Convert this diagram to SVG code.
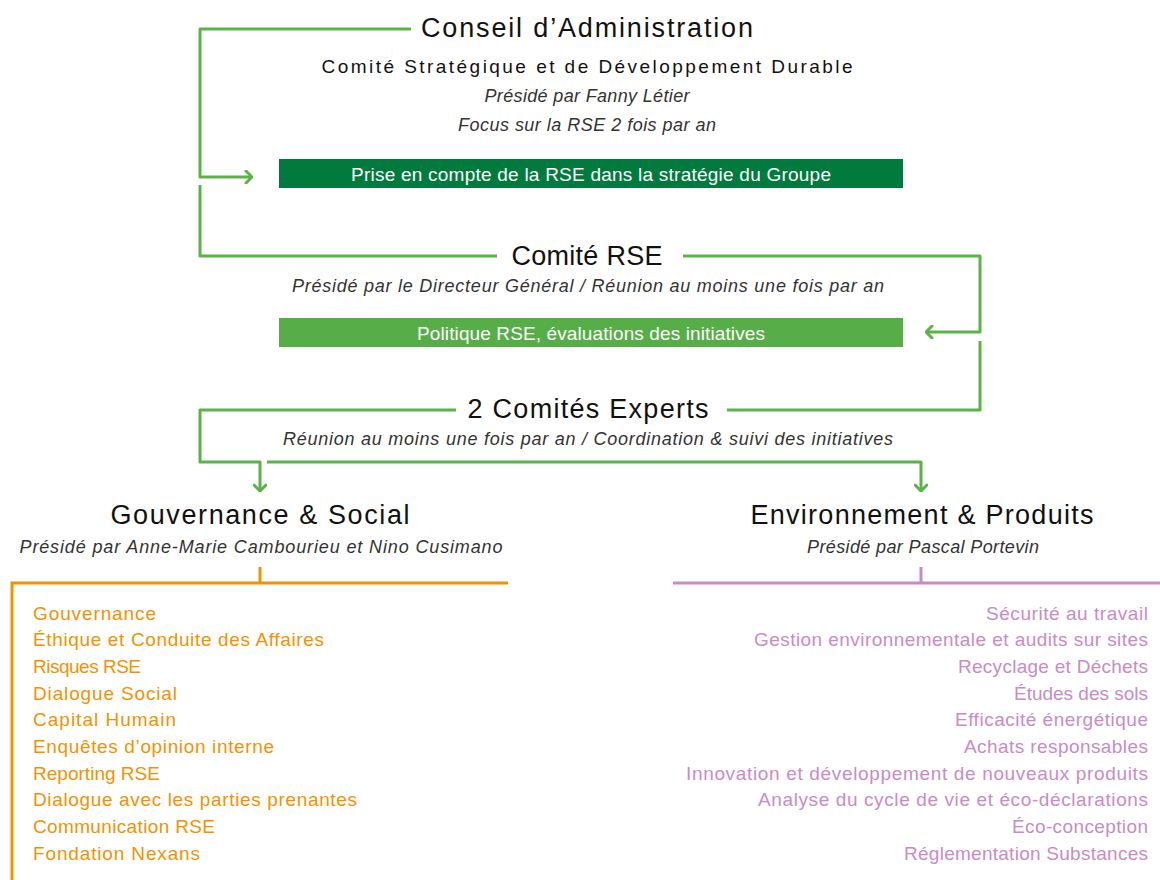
<svg xmlns="http://www.w3.org/2000/svg" width="1160" height="880" viewBox="0 0 1160 880">
<style>
text{font-family:"Liberation Sans","DejaVu Sans",sans-serif;}
.t1{font-size:27px;fill:#111;text-anchor:middle;}
.t2{font-size:19px;fill:#111;text-anchor:middle;}
.it{font-size:18px;fill:#333;font-style:italic;text-anchor:middle;}
.bar{font-size:19px;fill:#fff;text-anchor:middle;}
.or{font-size:19px;fill:#F39200;}
.pu{font-size:19px;fill:#C98BC4;text-anchor:end;}
.g{fill:none;stroke:#5BB246;stroke-width:3;stroke-linejoin:round;}
.o{fill:none;stroke:#F39200;stroke-width:3;}
.p{fill:none;stroke:#C98BC4;stroke-width:3;}
</style>
<defs>
<marker id="ah" viewBox="0 0 10 14" refX="9" refY="7" markerWidth="10" markerHeight="14" markerUnits="userSpaceOnUse" orient="auto">
<path d="M3,1 L9,7 L3,13" fill="none" stroke="#5BB246" stroke-width="3" stroke-linecap="round" stroke-linejoin="round"/>
</marker>
</defs>
<g id="connectors">
<path class="g" d="M411,29 H200 V177 H252" marker-end="url(#ah)"/>
<path class="g" d="M200,185 V256 H497"/>
<path class="g" d="M683,256 H980 V332 H926" marker-end="url(#ah)"/>
<path class="g" d="M980,341 V410 H727"/>
<path class="g" d="M456,410 H200 V462 H260 V491" marker-end="url(#ah)"/>
<path class="g" d="M267,462 H921 V491" marker-end="url(#ah)"/>
<path class="o" d="M260,567 V583"/>
<path class="o" d="M12,880 V583 H508"/>
<path class="p" d="M921,567 V583"/>
<path class="p" d="M673,583 H1160"/>
</g>
<g id="conseil">
<text class="t1" x="587" y="37" textLength="332" lengthAdjust="spacing">Conseil d’Administration</text>
<text class="t2" x="587" y="73" textLength="531" lengthAdjust="spacing">Comité Stratégique et de Développement Durable</text>
<text class="it" x="587" y="102" textLength="205" lengthAdjust="spacing">Présidé par Fanny Létier</text>
<text class="it" x="587" y="131" textLength="258" lengthAdjust="spacing">Focus sur la RSE 2 fois par an</text>
</g>
<g id="bar1">
<rect x="279" y="159" width="624" height="29" fill="#007A3D"/>
<text class="bar" x="591" y="181" textLength="480" lengthAdjust="spacing">Prise en compte de la RSE dans la stratégie du Groupe</text>
</g>
<g id="comite-rse">
<text class="t1" x="587" y="265" textLength="151" lengthAdjust="spacing">Comité RSE</text>
<text class="it" x="588" y="292" textLength="592" lengthAdjust="spacing">Présidé par le Directeur Général / Réunion au moins une fois par an</text>
</g>
<g id="bar2">
<rect x="279" y="318" width="624" height="29" fill="#57AE48"/>
<text class="bar" x="591" y="340" textLength="348" lengthAdjust="spacing">Politique RSE, évaluations des initiatives</text>
</g>
<g id="comites-experts">
<text class="t1" x="588" y="418" textLength="241" lengthAdjust="spacing">2 Comités Experts</text>
<text class="it" x="588" y="445" textLength="610" lengthAdjust="spacing">Réunion au moins une fois par an / Coordination &amp; suivi des initiatives</text>
</g>
<g id="gouvernance-social">
<text class="t1" x="260" y="524" textLength="299" lengthAdjust="spacing">Gouvernance &amp; Social</text>
<text class="it" x="261" y="553" textLength="483" lengthAdjust="spacing">Présidé par Anne-Marie Cambourieu et Nino Cusimano</text>
<text class="or" x="33" y="620" textLength="123" lengthAdjust="spacing">Gouvernance</text>
<text class="or" x="33" y="646" textLength="291" lengthAdjust="spacing">Éthique et Conduite des Affaires</text>
<text class="or" x="33" y="673" textLength="108" lengthAdjust="spacing">Risques RSE</text>
<text class="or" x="33" y="700" textLength="144" lengthAdjust="spacing">Dialogue Social</text>
<text class="or" x="33" y="726" textLength="143" lengthAdjust="spacing">Capital Humain</text>
<text class="or" x="33" y="753" textLength="241" lengthAdjust="spacing">Enquêtes d’opinion interne</text>
<text class="or" x="33" y="780" textLength="127" lengthAdjust="spacing">Reporting RSE</text>
<text class="or" x="33" y="806" textLength="324" lengthAdjust="spacing">Dialogue avec les parties prenantes</text>
<text class="or" x="33" y="833" textLength="182" lengthAdjust="spacing">Communication RSE</text>
<text class="or" x="33" y="860" textLength="167" lengthAdjust="spacing">Fondation Nexans</text>
</g>
<g id="environnement-produits">
<text class="t1" x="922" y="524" textLength="343" lengthAdjust="spacing">Environnement &amp; Produits</text>
<text class="it" x="923" y="553" textLength="232" lengthAdjust="spacing">Présidé par Pascal Portevin</text>
<text class="pu" x="1148" y="620" textLength="162" lengthAdjust="spacing">Sécurité au travail</text>
<text class="pu" x="1148" y="646" textLength="394" lengthAdjust="spacing">Gestion environnementale et audits sur sites</text>
<text class="pu" x="1148" y="673" textLength="190" lengthAdjust="spacing">Recyclage et Déchets</text>
<text class="pu" x="1148" y="700" textLength="134" lengthAdjust="spacing">Études des sols</text>
<text class="pu" x="1148" y="726" textLength="193" lengthAdjust="spacing">Efficacité énergétique</text>
<text class="pu" x="1148" y="753" textLength="184" lengthAdjust="spacing">Achats responsables</text>
<text class="pu" x="1148" y="780" textLength="462" lengthAdjust="spacing">Innovation et développement de nouveaux produits</text>
<text class="pu" x="1148" y="806" textLength="390" lengthAdjust="spacing">Analyse du cycle de vie et éco-déclarations</text>
<text class="pu" x="1148" y="833" textLength="136" lengthAdjust="spacing">Éco-conception</text>
<text class="pu" x="1148" y="860" textLength="244" lengthAdjust="spacing">Réglementation Substances</text>
</g>
</svg>
